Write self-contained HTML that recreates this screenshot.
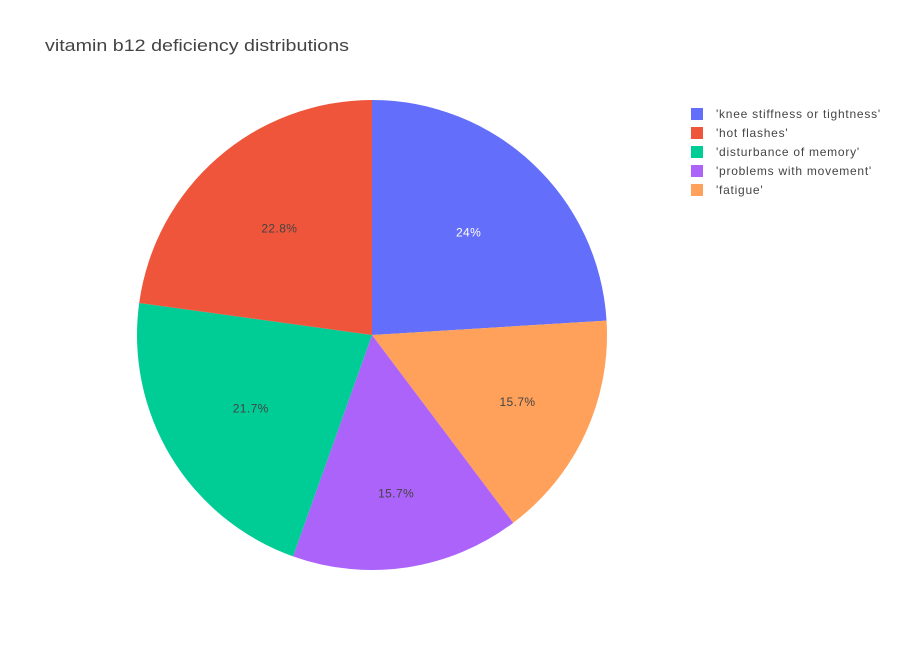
<!DOCTYPE html>
<html><head><meta charset="utf-8"><style>
body{margin:0;background:#fff;}
svg{display:block;font-family:"Liberation Sans",Arial,sans-serif;}
</style></head><body>
<svg id="chart" width="900" height="650">
<rect width="900" height="650" fill="#fff"/>
<text x="45" y="51" font-size="17" fill="#444" textLength="304" lengthAdjust="spacingAndGlyphs">vitamin b12 deficiency distributions</text>
<g id="slices"></g><g id="labels"></g><g id="legend"></g>
</svg>
<script>
const legendLabels = ["'knee stiffness or tightness'","'hot flashes'","'disturbance of memory'","'problems with movement'","'fatigue'"];
const legendColors = ["#636efa","#ef553b","#00cc96","#ab63fa","#ffa15a"];
const sliceOrder = [0,4,3,2,1];
const values = [24,22.8,21.7,15.7,15.7];
const pctLabels = ["24%","22.8%","21.7%","15.7%","15.7%"];
const NS="http://www.w3.org/2000/svg";
const cx=372, cy=335, R=235;
const total=values.reduce((a,b)=>a+b,0);
function pt(a,r){return [cx+r*Math.sin(a), cy-r*Math.cos(a)];}
let ang=0;
const gs=document.getElementById('slices'), gl=document.getElementById('labels');
sliceOrder.forEach(i=>{
  const frac=values[i]/total;
  const sweep=frac*2*Math.PI;
  const a0=ang,a1=ang+sweep; ang=a1;
  const p0=pt(a0,R),p1=pt(a1,R);
  const p=document.createElementNS(NS,'path');
  p.setAttribute('d',`M${cx},${cy}L${p0[0]},${p0[1]}A${R},${R} 0 ${sweep>Math.PI?1:0} 1 ${p1[0]},${p1[1]}Z`);
  p.setAttribute('fill',legendColors[i]);
  
  
  gs.appendChild(p);
  const rf=Math.max(0.6, 0.6+(0.22-frac)*1.3);
  const m=pt((a0+a1)/2,R*rf);
  const t=document.createElementNS(NS,'text');
  t.setAttribute('x',m[0]);t.setAttribute('y',m[1]+4);
  t.setAttribute('text-anchor','middle');t.setAttribute('font-size','12');
  t.setAttribute('letter-spacing','0.4');
  t.setAttribute('fill',i===0?'#fff':'#444');
  t.textContent=pctLabels[i];
  
  
  gl.appendChild(t);
});
const lg=document.getElementById('legend');
legendLabels.forEach((l,i)=>{
  const y=114+i*19;
  const g=document.createElementNS(NS,'g');
  
  
  const r=document.createElementNS(NS,'rect');
  r.setAttribute('x',691);r.setAttribute('y',y-6);r.setAttribute('width',12);r.setAttribute('height',12);
  r.setAttribute('fill',legendColors[i]);
  g.appendChild(r);
  const t=document.createElementNS(NS,'text');
  t.setAttribute('x',716);t.setAttribute('y',y+4);t.setAttribute('font-size','12');t.setAttribute('fill','#444');
  t.setAttribute('letter-spacing','0.75');
  t.textContent=l;g.appendChild(t);
  lg.appendChild(g);
});
</script>
</body></html>
